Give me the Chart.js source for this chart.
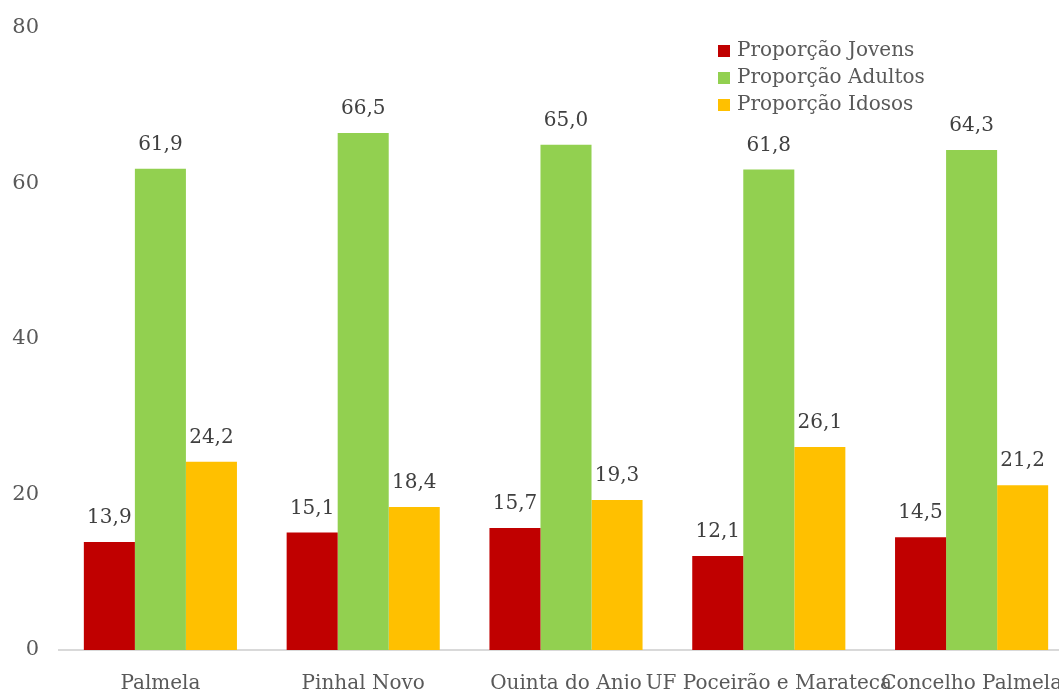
<!DOCTYPE html>
<html lang="pt">
	<head>
		<meta charset="UTF-8" />
		<script src="https://cdn.jsdelivr.net/npm/chart.js"></script>
		<style>
			html, body { margin: 0; padding: 0; overflow: hidden; background: #fff; }
			#wrap { width: 1073px; height: 690px; position: relative; }
		</style>
	</head>
	<body>
		<div id="wrap"><canvas id="myChart"></canvas></div>

		<script>
			const categorias = ['Palmela', 'Pinhal Novo', 'Quinta do Anjo', 'UF Poceirão e Marateca', 'Concelho Palmela'];
			const jovens = [13.9, 15.1, 15.7, 12.1, 14.5];
			const adultos = [61.9, 66.5, 65.0, 61.8, 64.3];
			const idosos = [24.2, 18.4, 19.3, 26.1, 21.2];
			const yTicks = [0, 20, 40, 60, 80];

			const fontFam = '"DejaVu Serif", serif';

			// value labels above each bar, comma decimal
			const valueLabels = {
				id: 'valueLabels',
				afterDatasetsDraw(chart) {
					const ctx = chart.ctx;
					ctx.save();
					ctx.font = '20px ' + fontFam;
					ctx.fillStyle = '#404040';
					ctx.textAlign = 'center';
					ctx.textBaseline = 'bottom';
					chart.data.datasets.forEach((ds, i) => {
						chart.getDatasetMeta(i).data.forEach((bar, j) => {
							const txt = ds.data[j].toFixed(1).replace('.', ',');
							ctx.fillText(txt, bar.x, bar.y - 14);
						});
					});
					ctx.restore();
				}
			};

			// legend in top right of plot area
			const boxLegend = {
				id: 'boxLegend',
				afterDraw(chart) {
					const ctx = chart.ctx;
					ctx.save();
					ctx.font = '20px ' + fontFam;
					ctx.textBaseline = 'middle';
					chart.data.datasets.forEach((ds, i) => {
						const y = 51 + i * 27;
						ctx.fillStyle = ds.backgroundColor;
						ctx.fillRect(718, y - 6, 12, 12);
						ctx.fillStyle = '#595959';
						ctx.fillText(ds.label, 737, y);
					});
					ctx.restore();
				}
			};

			const ctx = document.getElementById('myChart').getContext('2d');
			new Chart(ctx, {
				type: 'bar',
				data: {
					labels: categorias,
					datasets: [
						{ label: 'Proporção Jovens', data: jovens, backgroundColor: '#C00000' },
						{ label: 'Proporção Adultos', data: adultos, backgroundColor: '#92D050' },
						{ label: 'Proporção Idosos', data: idosos, backgroundColor: '#FFC000' },
					],
				},
				options: {
					responsive: true,
					maintainAspectRatio: false,
					animation: false,
					layout: { padding: { top: 28, left: 0, right: 0, bottom: 0 } },
					datasets: { bar: { barPercentage: 1, categoryPercentage: 0.755 } },
					plugins: { legend: { display: false }, tooltip: { enabled: false } },
					scales: {
						x: {
							afterFit: (scale) => {
								scale.height = 40;
								scale.paddingLeft = 0;
								scale.paddingRight = 0;
							},
							grid: { display: false },
							border: { display: true, color: '#d9d9d9', width: 2 },
							ticks: {
								autoSkip: false,
								maxRotation: 0,
								minRotation: 0,
								padding: 14,
								color: '#595959',
								font: { family: fontFam, size: 20 },
							},
						},
						y: {
							min: 0,
							max: 80,
							afterBuildTicks: (scale) => { scale.ticks = yTicks.map((v) => ({ value: v })); },
							afterFit: (scale) => {
								scale.width = 59;
								scale.paddingTop = 0;
								scale.paddingBottom = 0;
							},
							grid: { display: false },
							border: { display: false },
							ticks: {
								padding: 12,
								color: '#595959',
								font: { family: fontFam, size: 21 },
							},
						},
					},
				},
				plugins: [valueLabels, boxLegend],
			});
		</script>
	</body>
</html>
